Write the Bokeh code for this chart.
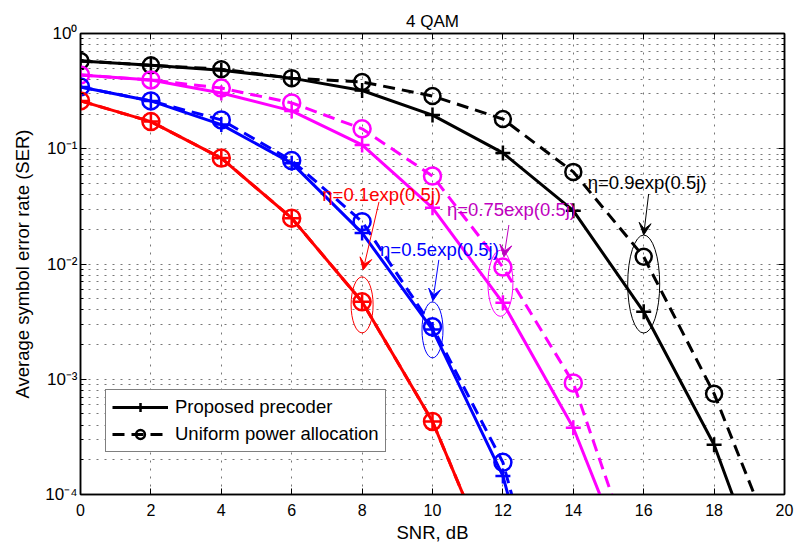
from bokeh.plotting import figure
from bokeh.models import (Range1d, LinearAxis, LogAxis, FixedTicker, Legend, LegendItem,
                          Arrow, VeeHead, ColumnDataSource)
from bokeh.core.properties import value
from bokeh.embed import file_html
from bokeh.resources import INLINE

FONT = "Liberation Sans"

# ---------------- data ----------------
snr = [0, 2, 4, 6, 8, 10, 12, 14, 16, 18, 20]

# eta = 0.9 exp(0.5j)
ser_black_prop = [0.578, 0.53, 0.48, 0.41, 0.32, 0.196, 0.092, 0.029, 0.00385, 2.7e-4, 5.9e-6]
ser_black_unif = [0.578, 0.53, 0.49, 0.41, 0.38, 0.287, 0.181, 0.063, 0.01155, 7.5e-4, 2.2e-5]
# eta = 0.75 exp(0.5j)
snr_mag = [0, 2, 4, 6, 8, 10, 12, 14, 16]
ser_mag_prop = [0.437, 0.395, 0.305, 0.213, 0.108, 0.0307, 0.0046, 3.8e-4, 1.1e-5]
ser_mag_unif = [0.437, 0.395, 0.336, 0.25, 0.149, 0.058, 0.0094, 9.3e-4, 1.55e-5]
# eta = 0.5 exp(0.5j)
snr_blue = [0, 2, 4, 6, 8, 10, 12, 14]
ser_blue_prop = [0.344, 0.26, 0.162, 0.075, 0.0186, 0.0027, 1.45e-4, 7.9e-7]
ser_blue_unif = [0.344, 0.26, 0.178, 0.079, 0.0233, 0.00285, 1.9e-4, 1.1e-6]
# eta = 0.1 exp(0.5j)
snr_red = [0, 2, 4, 6, 8, 10, 12]
ser_red_prop = [0.26, 0.172, 0.083, 0.025, 0.0047, 4.3e-4, 1.5e-5]
ser_red_unif = [0.26, 0.172, 0.083, 0.025, 0.0047, 4.3e-4, 1.5e-5]

x_ticks = [0, 2, 4, 6, 8, 10, 12, 14, 16, 18, 20]
y_ticks = [1e-4, 1e-3, 1e-2, 1e-1, 1.0]
y_tick_labels = ["10\u207b\u2074", "10\u207b\u00b3", "10\u207b\u00b2", "10\u207b\u00b9", "10\u2070"]
y_minor = [m * 10.0 ** e for e in (-4, -3, -2, -1) for m in range(2, 10)]

series_labels = ["Proposed precoder", "Uniform power allocation"]

# annotations
ann_text = ["\u03b7=0.1exp(0.5j)", "\u03b7=0.5exp(0.5j)", "\u03b7=0.75exp(0.5j)", "\u03b7=0.9exp(0.5j)"]
ann_x = [6.87, 8.51, 10.41, 14.41]
ann_y = [0.0397, 0.01324, 0.02945, 0.0505]
ann_color = ["#FF0000", "#0000FF", "#BF00BF", "#000000"]

ell_x = [8.0, 10.0, 11.93, 16.0]
ell_y = [0.00442, 0.00268, 0.0068, 0.0067]
ell_w = [22, 21, 25, 32]
ell_h = [56, 56, 66, 98]
ell_color = ["#FF0000", "#0000FF", "#FF00FF", "#000000"]

arr_x0 = [8.48, 10.18, 12.17, 16.14]
arr_y0 = [0.0346, 0.01086, 0.0218, 0.0405]
arr_x1 = [8.03, 10.01, 12.03, 16.0]
arr_y1 = [0.00889, 0.00479, 0.01153, 0.01787]
arr_color = ["#FF0000", "#0000FF", "#BF00BF", "#000000"]

# ---------------- figure ----------------
p = figure(width=798, height=547, y_axis_type="log",
           x_range=Range1d(0, 20), y_range=Range1d(1e-4, 1),
           output_backend="svg", toolbar_location=None, title="4 QAM",
           min_border_left=80, min_border_right=14, min_border_top=33, min_border_bottom=53)

p.title.align = "center"
p.title.text_font = FONT
p.title.text_font_size = "17px"
p.title.text_font_style = "normal"
p.title.text_color = "black"
p.title.standoff = 6

p.outline_line_color = "black"
p.outline_line_width = 1.5
p.outline_line_alpha = 1

bottom_axis = p.below[0]
left_axis = p.left[0]

xt = FixedTicker(ticks=x_ticks, minor_ticks=[])
yt = FixedTicker(ticks=y_ticks, minor_ticks=y_minor)

bottom_axis.ticker = xt
left_axis.ticker = yt
left_axis.major_label_overrides = {t: l for t, l in zip(y_ticks, y_tick_labels)}

top_axis = LinearAxis(ticker=xt)
right_axis = LogAxis(ticker=yt)
p.add_layout(top_axis, "above")
p.add_layout(right_axis, "right")

for ax in [bottom_axis, left_axis, top_axis, right_axis]:
    ax.major_tick_in = 6
    ax.major_tick_out = 0
    ax.minor_tick_in = 3
    ax.minor_tick_out = 0
    ax.axis_line_color = "black"
    ax.axis_line_width = 1.5
    ax.major_tick_line_color = "black"
    ax.minor_tick_line_color = "black"
    ax.major_label_text_font = FONT
    ax.major_label_text_font_size = "16px"
    ax.major_label_text_color = "black"
    ax.axis_label_text_font = FONT
    ax.axis_label_text_font_size = "18.5px"
    ax.axis_label_text_font_style = "normal"
    ax.axis_label_text_color = "black"

left_axis.major_label_text_font_size = "17px"

for ax in [top_axis, right_axis]:
    ax.major_label_text_color = None
    ax.major_label_text_font_size = "1px"
    ax.major_label_standoff = 0

bottom_axis.axis_label = "SNR, dB"
bottom_axis.major_label_standoff = 9
bottom_axis.axis_label_standoff = 3
left_axis.axis_label = "Average symbol error rate (SER)"
left_axis.major_label_standoff = 3
left_axis.axis_label_standoff = 9

GRID = "#777777"
for g in p.xgrid:
    g.ticker = xt
    g.grid_line_color = GRID
    g.grid_line_dash = "2 6"
    g.grid_line_width = 1
for g in p.ygrid:
    g.ticker = yt
    g.grid_line_color = GRID
    g.grid_line_dash = "2 6"
    g.minor_grid_line_color = GRID
    g.minor_grid_line_dash = "2 6"

# ---------------- series ----------------
def series(x, y, color, dashed, marker, lw, mlw, size):
    ln = p.line(x, y, line_color=color, line_width=lw, line_dash="12 7" if dashed else "solid")
    if marker == "cross":
        mk = p.scatter(x, y, marker="cross", size=size, line_color=color, line_width=mlw)
    else:
        mk = p.scatter(x, y, marker="circle", size=size, fill_color=None, line_color=color, line_width=mlw)
    return ln, mk

bp = series(snr, ser_black_prop, "#000000", False, "cross", 3, 2.5, 15)
bu = series(snr, ser_black_unif, "#000000", True, "circle", 3, 2.5, 16)
series(snr_mag, ser_mag_prop, "#FF00FF", False, "cross", 3, 2.5, 15)
series(snr_mag, ser_mag_unif, "#FF00FF", True, "circle", 3, 2.5, 17)
series(snr_blue, ser_blue_prop, "#0000FF", False, "cross", 3, 2.5, 15)
series(snr_blue, ser_blue_unif, "#0000FF", True, "circle", 3, 2.5, 17)
series(snr_red, ser_red_prop, "#FF0000", False, "cross", 3, 2.5, 15)
series(snr_red, ser_red_unif, "#FF0000", True, "circle", 3, 2.5, 17)

# ---------------- annotations ----------------
p.ellipse(x=ell_x, y=ell_y, width=ell_w, height=ell_h,
          width_units="screen", height_units="screen",
          fill_color=None, line_color=ell_color, line_width=1)

for i in range(len(arr_x0)):
    c = arr_color[i]
    p.add_layout(Arrow(end=VeeHead(size=12, fill_color=c, line_color=c, line_width=1),
                       x_start=arr_x0[i], y_start=arr_y0[i], x_end=arr_x1[i], y_end=arr_y1[i],
                       line_color=c, line_width=1))

ann_src = ColumnDataSource(dict(x=ann_x, y=ann_y, text=ann_text, color=ann_color))
p.text(x="x", y="y", text="text", text_color="color", source=ann_src,
       text_font=value(FONT), text_font_size="18.5px",
       text_align="left", text_baseline="middle")

# ---------------- legend ----------------
legend = Legend(items=[LegendItem(label=series_labels[0], renderers=[bp[0], bp[1]], index=0),
                       LegendItem(label=series_labels[1], renderers=[bu[0], bu[1]], index=0)],
                location=(25, 42), margin=0, padding=6, spacing=5,
                glyph_width=56, glyph_height=22, label_height=22, label_standoff=7,
                label_text_font=FONT, label_text_font_size="18.5px", label_text_color="black",
                border_line_color="black", border_line_width=1.5, background_fill_color="white",
                background_fill_alpha=1)
p.add_layout(legend)

open("out.html", "w").write(file_html(p, INLINE))
